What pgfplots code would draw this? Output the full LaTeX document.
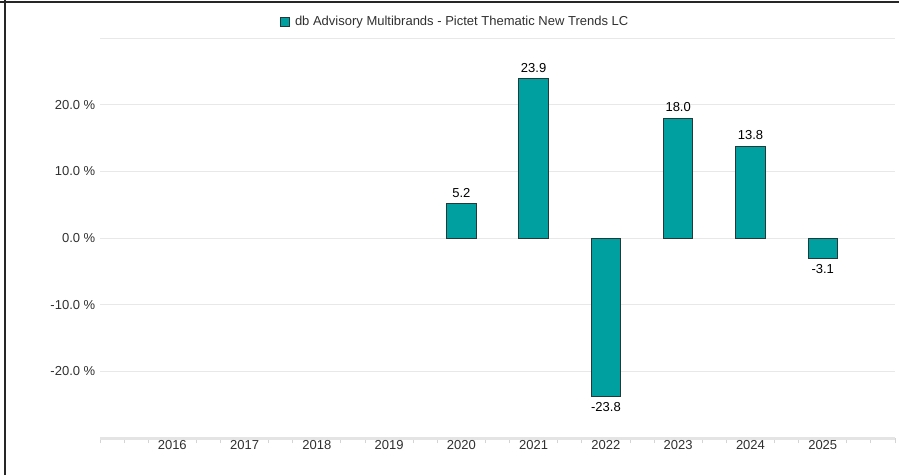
\documentclass[border=0pt]{standalone}
\usepackage{pgfplots}
\pgfplotsset{compat=1.18}
\usepackage{fontspec}
\setmainfont{Liberation Sans}
\definecolor{barfill}{HTML}{00A0A0}
\definecolor{baredge}{HTML}{263838}
\definecolor{gridc}{HTML}{E8E8E8}
\definecolor{axisc}{HTML}{E4E4E4}
\definecolor{minortick}{HTML}{D4D4D4}
\definecolor{tickc}{HTML}{303030}
\begin{document}
\begin{tikzpicture}
\useasboundingbox (0pt,0pt) rectangle (899pt,475pt);
\draw[line width=2pt, black!85] (4.8pt,0pt) -- (4.8pt,475pt);
\draw[line width=2pt, black!85] (0pt,473.3pt) -- (899pt,473.3pt);
\begin{axis}[
  at={(100pt,37pt)}, anchor=south west,
  scale only axis, width=795pt, height=400pt,
  xmin=-1, xmax=10, ymin=-30, ymax=30,
  ybar, bar width=29.3pt,
  axis x line*=bottom, axis y line*=left,
  y axis line style={draw=none},
  x axis line style={axisc, line width=3pt, -},
  xtick={0,...,9},
  xticklabels={2016,2017,2018,2019,2020,2021,2022,2023,2024,2025},
  minor xtick={-1,-0.6667,-0.3333,0.3333,0.6667,1.3333,1.6667,2.3333,2.6667,3.3333,3.6667,4.3333,4.6667,5.3333,5.6667,6.3333,6.6667,7.3333,7.6667,8.3333,8.6667,9.3333,9.6667,10},
  major tick length=0pt, minor tick length=5pt, tick align=outside,
  major x tick style={draw=none},
  minor x tick style={draw=minortick, line width=1pt},
  ytick={-20,-10,0,10,20,30},
  yticklabels={-20.0 \%,-10.0 \%,0.0 \%,10.0 \%,20.0 \%,{}},
  ytick style={draw=none},
  ymajorgrids, grid style={gridc, line width=1pt},
  tick label style={font=\fontsize{13}{15}\selectfont, text=tickc},
  xticklabel style={inner sep=0pt, yshift=-2pt},
  yticklabel style={inner sep=0pt, xshift=-4.5pt},
  point meta=y,
  nodes near coords={\pgfmathprintnumber[fixed,fixed zerofill,precision=1,assume math mode=true]{\pgfplotspointmeta}},
  every node near coord/.append style={font=\fontsize{13}{15}\selectfont, text=black, inner sep=1pt, outer sep=5pt},
  legend style={at={(0.4465,1.04)}, anchor=center, draw=none, fill=none, font=\fontsize{13}{15}\selectfont, text=tickc},
  legend image code/.code={\draw[fill=barfill,draw=baredge,line width=0.9pt] (0pt,-4.5pt) rectangle (9pt,4.5pt);},
  clip=false,
]
\addplot[fill=barfill, draw=baredge, line width=1pt] coordinates {(4,5.2) (5,23.9) (6,-23.8) (7,18.0) (8,13.8) (9,-3.1)};
\addlegendentry{\hspace{3.5pt}db Advisory Multibrands - Pictet Thematic New Trends LC}
\end{axis}
\end{tikzpicture}
\end{document}
